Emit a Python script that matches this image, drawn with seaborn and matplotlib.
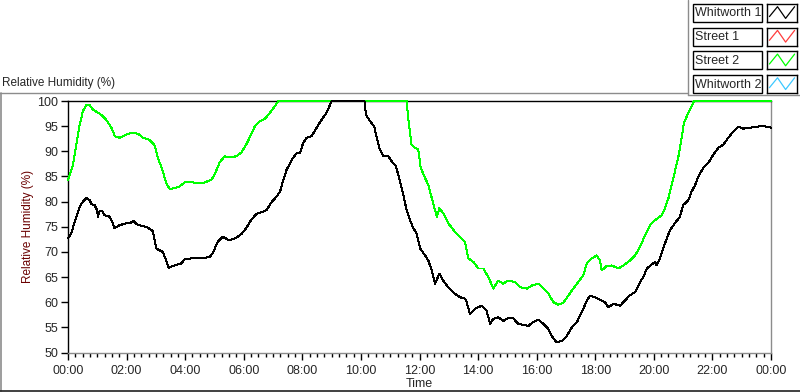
import numpy as np
import pandas as pd
import seaborn as sns
import matplotlib.pyplot as plt
from matplotlib.lines import Line2D
from matplotlib.patches import Rectangle
from matplotlib.ticker import MultipleLocator, FuncFormatter

# ===============================
# Datos (hora del día, humedad relativa %)
# ===============================
whitworth1_hours = [
    0, 0.11, 0.23, 0.4, 0.51, 0.63, 0.74, 0.8, 0.91, 0.99, 1.02, 1.08, 1.17, 1.25,
    1.42, 1.51, 1.59, 1.76, 1.99, 2.1, 2.24, 2.39, 2.56, 2.73, 2.9, 3.01, 3.13,
    3.24, 3.35, 3.44, 3.58, 3.75, 3.86, 3.98, 4.2, 4.38, 4.6, 4.83, 4.94, 5.11,
    5.28, 5.51, 5.74, 5.91, 6.08, 6.25, 6.42, 6.61, 6.78, 6.95, 7.12, 7.24, 7.35,
    7.46, 7.64, 7.81, 7.92, 8.03, 8.15, 8.32, 8.49, 8.66, 8.83, 9.0, 10.12, 10.17,
    10.31, 10.45, 10.54, 10.65, 10.77, 10.94, 11.05, 11.2, 11.33, 11.45, 11.56,
    11.68, 11.79, 11.9, 12.02, 12.19, 12.3, 12.42, 12.53, 12.68, 12.81, 12.98,
    13.21, 13.38, 13.55, 13.61, 13.72, 13.9, 14.12, 14.29, 14.41, 14.52, 14.69,
    14.86, 15.03, 15.2, 15.37, 15.55, 15.72, 15.89, 16.06, 16.23, 16.4, 16.51,
    16.68, 16.86, 17.03, 17.2, 17.37, 17.54, 17.71, 17.82, 17.99, 18.16, 18.33,
    18.45, 18.62, 18.85, 19.02, 19.19, 19.36, 19.53, 19.64, 19.76, 19.93, 20.04,
    20.1, 20.21, 20.38, 20.55, 20.72, 20.89, 21.0, 21.18, 21.29, 21.41, 21.52,
    21.69, 21.86, 22.03, 22.2, 22.37, 22.54, 22.71, 22.89, 23.06, 23.28, 23.51,
    23.68, 23.85, 24,
]
whitworth1_rh = [
    72.7, 73.7, 76, 79, 80, 80.7, 80.3, 79.5, 79.3, 78.3, 77, 78.1, 78.1, 77.3,
    77, 76, 74.7, 75.3, 75.7, 75.7, 76.1, 75.3, 75.2, 74.8, 74.1, 70.7, 70.3,
    70, 68.3, 66.8, 67.2, 67.5, 67.7, 68.5, 68.7, 68.7, 68.7, 69, 69.7, 72,
    73, 72.3, 72.8, 73.5, 74.7, 76.3, 77.5, 77.9, 78.3, 79.9, 81, 82, 84.3,
    86.3, 88.3, 89.7, 89.7, 91.7, 92.7, 93, 94.7, 96.3, 97.7, 100, 100, 97.3,
    96, 95, 92.7, 90.3, 89, 89, 88, 87, 84, 81.3, 78.3,
    76.3, 74.7, 73.7, 70.7, 69.3, 68.3, 66.3, 63.7, 65.7, 64.3, 63,
    61.7, 61, 60.7, 60, 57.7, 58.7, 59.3, 58.3, 55.7, 56.7, 57,
    56.3, 56.8, 56.8, 55.7, 55.5, 55.3, 56.1, 56.5, 55.7, 54.7, 53.3,
    52, 52.3, 53.3, 55, 56, 58, 60.3, 61.3, 61, 60.5, 60,
    59, 59.7, 59.3, 60.4, 61.4, 62, 64, 65, 66.7, 67.5, 68,
    67.3, 68.7, 71.7, 74.3, 75.7, 77, 79.3, 80.3, 82, 83.3, 85,
    86.7, 87.7, 89.3, 90.7, 91.3, 92.7, 93.9, 94.9, 94.5, 94.7, 94.9,
    95, 94.9, 94.7,
]

street2_hours = [
    0, 0.17, 0.28, 0.4, 0.51, 0.63, 0.74, 0.85, 1.02, 1.14, 1.3, 1.48, 1.6, 1.76,
    1.99, 2.16, 2.39, 2.56, 2.78, 2.95, 3.07, 3.24, 3.35, 3.47, 3.64, 3.8, 3.98,
    4.2, 4.38, 4.6, 4.89, 5.0, 5.17, 5.34, 5.51, 5.74, 5.91, 6.08, 6.25, 6.38,
    6.56, 6.73, 6.9, 7.07, 7.18, 11.56, 11.62, 11.73, 11.85, 11.96, 12.04, 12.19,
    12.3, 12.42, 12.53, 12.59, 12.68, 12.81, 12.98, 13.21, 13.38, 13.55, 13.67,
    13.84, 14.01, 14.18, 14.35, 14.52, 14.69, 14.86, 15.03, 15.26, 15.43, 15.66,
    15.83, 16.06, 16.23, 16.4, 16.57, 16.74, 16.91, 17.08, 17.25, 17.42, 17.59,
    17.71, 17.88, 18.05, 18.16, 18.22, 18.39, 18.56, 18.79, 18.96, 19.19, 19.36,
    19.53, 19.7, 19.87, 20.04, 20.27, 20.38, 20.5, 20.61, 20.72, 20.84, 20.95,
    21.03, 21.18, 21.29, 21.37, 24,
]
street2_rh = [
    84.3, 87.3, 91.3, 95.3, 98, 99.2, 99.2, 98.3, 97.7, 97.2, 96.3, 94.7, 93, 92.7,
    93.3, 93.7, 93.5, 92.7, 92.3, 91.3, 88.7, 86, 83.7, 82.5, 82.7, 83, 83.8,
    83.9, 83.7, 83.7, 84.3, 85.3, 87.7, 89, 88.8, 89, 89.7, 91.3, 93.3, 95,
    96, 96.5, 97.7, 99, 100, 100, 96.3, 91.3, 90.7, 90.3, 86.7, 84.7,
    83.3, 80.7, 78.3, 77, 78.7, 77.7, 75.7, 74, 73, 72, 68.7,
    68, 66.7, 66.7, 65, 62.7, 64.3, 63.7, 64.3, 64, 63, 62.7,
    63.3, 63.7, 62.7, 61.7, 60, 59.5, 59.9, 61.3, 62.7, 64, 65.3,
    67.7, 68.7, 69.3, 68.3, 66.3, 67.2, 67.3, 66.7, 67.3, 68.3, 69.3,
    71, 73.3, 75.3, 76.3, 77.3, 78.7, 80.7, 83.3, 86, 89, 92.7,
    95.7, 97.7, 99, 100, 100,
]

legend_names = ["Whitworth 1", "Street 1", "Street 2", "Whitworth 2"]
legend_colors = ["#000000", "#ff3c3c", "#00ff00", "#3cc8ff"]
series_colors = {"Whitworth 1": "#000000", "Street 2": "#00ff00"}

df = pd.concat([
    pd.DataFrame({"hora": whitworth1_hours, "rh": whitworth1_rh, "sensor": "Whitworth 1"}),
    pd.DataFrame({"hora": street2_hours, "rh": street2_rh, "sensor": "Street 2"}),
])

# ===============================
# Estilo
# ===============================
sns.set_style("ticks")
plt.rcParams["font.family"] = ["Liberation Sans", "DejaVu Sans"]
plt.rcParams["font.size"] = 8.5

W, H = 800, 392


def fx(px):
    return px / W


def fy(py):
    return 1 - py / H


fig = plt.figure(figsize=(8, 3.92), dpi=100)
fig.patch.set_facecolor("white")
ax = fig.add_axes([fx(68), fy(352.5), fx(771 - 68), (352.5 - 101) / H])

# Street 2 primero, luego Whitworth 1 encima
for nombre, z in [("Street 2", 3), ("Whitworth 1", 4)]:
    sns.lineplot(data=df[df["sensor"] == nombre], x="hora", y="rh", color=series_colors[nombre],
                 linewidth=0.72, estimator=None, sort=False, ax=ax, clip_on=False, zorder=z,
                 antialiased=False)

ax.set_xlim(0, 24)
ax.set_ylim(50, 100)
ax.xaxis.set_major_locator(MultipleLocator(2))
ax.xaxis.set_minor_locator(MultipleLocator(0.25))
ax.xaxis.set_major_formatter(FuncFormatter(lambda v, p: f"{int(v) % 24:02d}:00"))
ax.yaxis.set_major_locator(MultipleLocator(5))
ax.tick_params(axis="x", which="major", length=5, width=1, color="black", pad=4, labelsize=9)
ax.tick_params(axis="x", which="minor", length=3, width=1, color="black")
ax.tick_params(axis="y", length=5, width=1, color="black", pad=2, labelsize=9)

for s in ["left", "top"]:
    ax.spines[s].set_color("black")
    ax.spines[s].set_linewidth(1)
for s in ["right", "bottom"]:
    ax.spines[s].set_visible(True)
    ax.spines[s].set_color("#8c8c8c")
    ax.spines[s].set_linewidth(1)

ax.set_xlabel("Time", fontsize=9, labelpad=0.5)
ax.set_ylabel("Relative Humidity (%)", fontsize=8.5, color="#6a0000", labelpad=2)

# Título y marco estilo LabVIEW
fig.text(fx(2), fy(83), "Relative Humidity (%)", fontsize=8.5, ha="left", va="center")
fig.add_artist(Line2D([fx(0), fx(688)], [fy(93), fy(93)], color="#8c8c8c", lw=1))
fig.add_artist(Line2D([fx(1), fx(1)], [fy(93), fy(391)], color="#8c8c8c", lw=1.2))
fig.add_artist(Line2D([fx(0), fx(800)], [fy(390.5), fy(390.5)], color="#202020", lw=1.2))
fig.add_artist(Line2D([fx(688), fx(688)], [fy(0), fy(95)], color="#8c8c8c", lw=1))
fig.add_artist(Line2D([fx(688), fx(800)], [fy(95), fy(95)], color="#8c8c8c", lw=1))

# Leyenda manual (cajas con nombre + icono)
zigzag_x = [0.08, 0.35, 0.62, 0.92]
zigzag_y = [0.3, 0.85, 0.2, 0.85]
for i, (name, col) in enumerate(zip(legend_names, legend_colors)):
    top = 4 + i * 23.7
    fig.add_artist(Rectangle((fx(693), fy(top + 18)), fx(69), 18 / H,
                             transform=fig.transFigure, fc="white", ec="black", lw=1))
    fig.text(fx(695), fy(top + 9.5), name, fontsize=9, ha="left", va="center")
    iax = fig.add_axes([fx(767), fy(top + 18), fx(30), 18 / H])
    iax.plot(zigzag_x, zigzag_y, color=col, lw=0.9)
    iax.set_xlim(0, 1)
    iax.set_ylim(0, 1)
    iax.set_xticks([])
    iax.set_yticks([])
    for s in iax.spines.values():
        s.set_color("black")
        s.set_linewidth(1)

fig.savefig("out.png", dpi=100)
